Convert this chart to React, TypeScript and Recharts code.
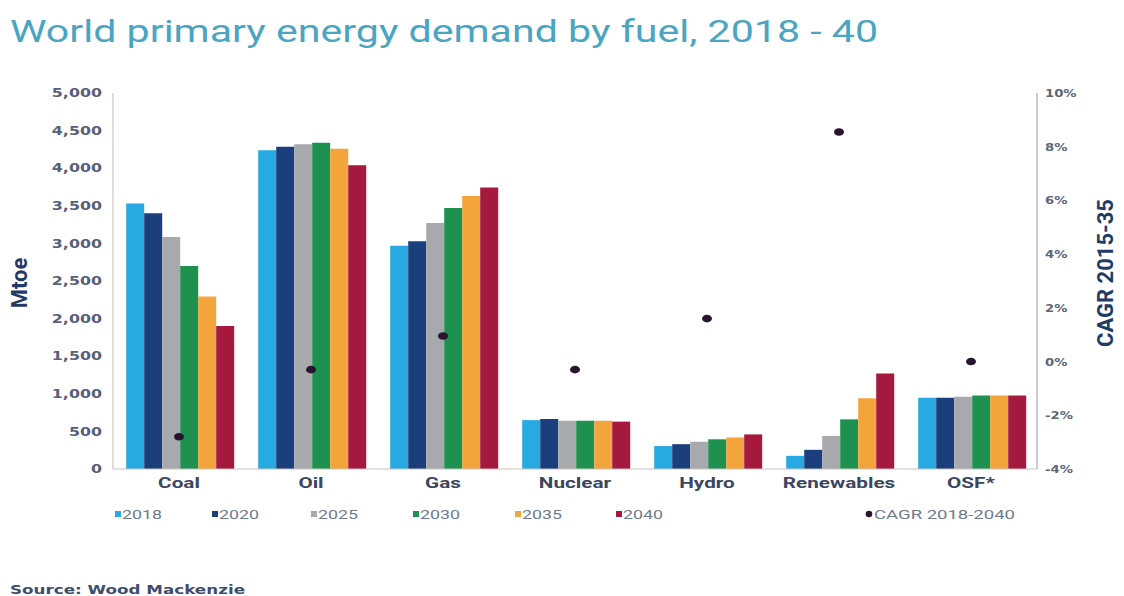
import React from 'react';
import { ComposedChart, Bar, Line, XAxis, YAxis } from 'recharts';

const categories = ['Coal', 'Oil', 'Gas', 'Nuclear', 'Hydro', 'Renewables', 'OSF*'];
const v2018 = [3530, 4240, 2970, 650, 305, 175, 948];
const v2020 = [3400, 4285, 3030, 665, 330, 255, 948];
const v2025 = [3085, 4320, 3270, 642, 362, 440, 960];
const v2030 = [2700, 4340, 3470, 642, 395, 660, 978];
const v2035 = [2295, 4260, 3630, 642, 420, 940, 978];
const v2040 = [1900, 4040, 3745, 630, 460, 1270, 978];
const cagr = [-2.8, -0.3, 0.95, -0.3, 1.6, 8.55, 0.0];

const leftTicks = [0, 500, 1000, 1500, 2000, 2500, 3000, 3500, 4000, 4500, 5000];
const rightTicks = [-4, -2, 0, 2, 4, 6, 8, 10];

const seriesNames = ['2018', '2020', '2025', '2030', '2035', '2040'];
const seriesValues = [v2018, v2020, v2025, v2030, v2035, v2040];
const seriesColors = ['#27a9e1', '#1b3f7c', '#a7a9ac', '#1e9150', '#f3a53b', '#a6193f'];
const cagrName = 'CAGR 2018-2040';
const cagrColor = '#2a1530';
const legendX = [115, 212, 311, 413, 515, 616];
const cagrLegendX = 866;

const data = categories.map((c, i) => {
  const row: Record<string, string | number> = { name: c, cagr: cagr[i] };
  seriesNames.forEach((s, k) => {
    row['y' + s] = seriesValues[k][i];
  });
  return row;
});

const SX = 1.38;

const LeftTick = (props: any) => {
  const { x, y, payload } = props;
  return (
    <text
      x={x}
      y={y}
      dy="0.36em"
      textAnchor="end"
      fontFamily="DejaVu Sans"
      fontWeight="bold"
      fontSize={11.5}
      fill="#56607a"
      transform={`translate(${x},${y}) scale(${SX},1) translate(${-x},${-y})`}
    >
      {payload.value.toLocaleString('en-US')}
    </text>
  );
};

const RightTick = (props: any) => {
  const { x, y, payload } = props;
  return (
    <text
      x={x}
      y={y}
      dy="0.36em"
      textAnchor="start"
      fontFamily="DejaVu Sans"
      fontWeight="bold"
      fontSize={11}
      fill="#5e6678"
      transform={`translate(${x},${y}) scale(1.2,1) translate(${-x},${-y})`}
    >
      {payload.value + '%'}
    </text>
  );
};

const CatTick = (props: any) => {
  const { x, y, payload } = props;
  return (
    <text
      x={x}
      y={y}
      dy={19}
      textAnchor="middle"
      fontFamily="Roboto"
      fontWeight="bold"
      fontSize={15}
      fill="#3b4660"
      transform={`translate(${x},${y}) scale(${SX},1) translate(${-x},${-y})`}
    >
      {payload.value}
    </text>
  );
};

const CagrDot = (props: any) => {
  const { cx, cy } = props;
  if (cx == null || cy == null) return null;
  return <ellipse cx={cx} cy={cy} rx={5} ry={3.8} fill={cagrColor} />;
};

export default function App() {
  return (
    <div style={{ position: 'absolute', left: 0, top: 0, width: 1124, height: 596, background: '#fff', overflow: 'hidden' }}>
      <ComposedChart
        width={1124}
        height={596}
        data={data}
        margin={{ top: 93, right: 0, left: 0, bottom: 97 }}
        barCategoryGap="10%"
        barGap={0}
      >
        <XAxis
          dataKey="name"
          xAxisId="x"
          height={30}
          tickLine={false}
          axisLine={{ stroke: '#c9c3bf', strokeWidth: 1 }}
          tick={<CatTick />}
          interval={0}
          tickSize={0}
          tickMargin={0}
        />
        <YAxis
          yAxisId="left"
          orientation="left"
          width={113}
          domain={[0, 5000]}
          ticks={leftTicks}
          tickLine={false}
          tickSize={0}
          tickMargin={11}
          axisLine={{ stroke: '#c9bdb6', strokeWidth: 1 }}
          tick={<LeftTick />}
          interval={0}
        />
        <YAxis
          yAxisId="right"
          orientation="right"
          width={87}
          domain={[-4, 10]}
          ticks={rightTicks}
          tickLine={false}
          tickSize={0}
          tickMargin={8}
          axisLine={{ stroke: '#9a9a9a', strokeWidth: 1 }}
          tick={<RightTick />}
          interval={0}
        />
        {seriesNames.map((s, k) => (
          <Bar
            key={s}
            xAxisId="x"
            yAxisId="left"
            dataKey={'y' + s}
            name={s}
            fill={seriesColors[k]}
            isAnimationActive={false}
          />
        ))}
        <Line
          xAxisId="x"
          yAxisId="right"
          dataKey="cagr"
          name={cagrName}
          stroke="none"
          strokeWidth={0}
          dot={<CagrDot />}
          activeDot={false}
          isAnimationActive={false}
        />
      </ComposedChart>
      <svg
        width={1124}
        height={596}
        style={{ position: 'absolute', left: 0, top: 0, pointerEvents: 'none' }}
      >
        <text x={10} y={42} fontFamily="Roboto" fontSize={31} fill="#4aa5c3" textLength={868} lengthAdjust="spacingAndGlyphs">
          World primary energy demand by fuel, 2018 - 40
        </text>
        <text
          transform="translate(27,283) rotate(-90)"
          textAnchor="middle"
          fontFamily="Roboto"
          fontWeight="bold"
          fontSize={22}
          fill="#1f3b66"
        >
          Mtoe
        </text>
        <text
          transform="translate(1113,273) rotate(-90)"
          textAnchor="middle"
          fontFamily="Roboto"
          fontWeight="bold"
          fontSize={22}
          fill="#1f3b66"
        >
          CAGR 2015-35
        </text>
        {seriesNames.map((s, k) => (
          <g key={s}>
            <rect x={legendX[k]} y={511} width={6} height={6} fill={seriesColors[k]} />
            <text
              x={legendX[k] + 7}
              y={519}
              fontFamily="Roboto"
              fontSize={13}
              fill="#6e7b8f"
              textLength={40}
              lengthAdjust="spacingAndGlyphs"
            >
              {s}
            </text>
          </g>
        ))}
        <circle cx={cagrLegendX + 3} cy={514} r={3.3} fill={cagrColor} />
        <text
          x={cagrLegendX + 8}
          y={519}
          fontFamily="Roboto"
          fontSize={13}
          fill="#6e7b8f"
          textLength={141}
          lengthAdjust="spacingAndGlyphs"
        >
          {cagrName}
        </text>
        <text
          x={10}
          y={594}
          fontFamily="DejaVu Sans"
          fontWeight="bold"
          fontSize={11.5}
          fill="#3e4d6e"
          textLength={235}
          lengthAdjust="spacingAndGlyphs"
        >
          Source: Wood Mackenzie
        </text>
      </svg>
    </div>
  );
}
